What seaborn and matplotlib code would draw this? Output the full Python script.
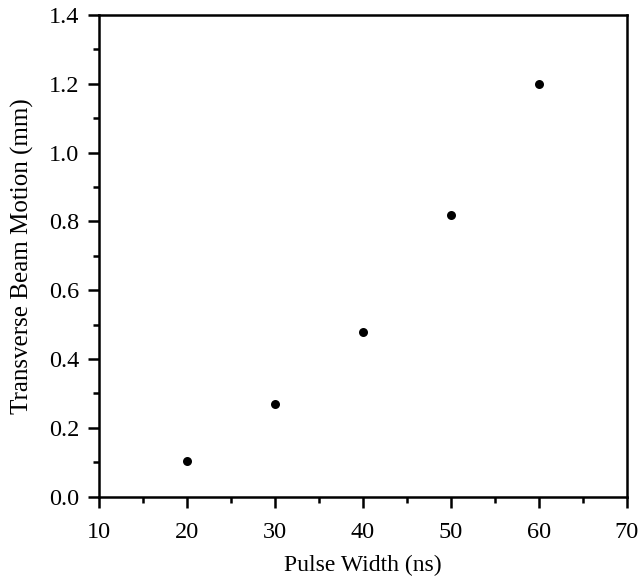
import matplotlib
matplotlib.use("Agg")
import matplotlib.pyplot as plt
from matplotlib.ticker import MultipleLocator
import seaborn as sns
import pandas as pd

pulse_width = [20, 30, 40, 50, 60]
beam_motion = [0.105, 0.27, 0.48, 0.82, 1.20]

sns.set_theme(style="white")
plt.rcParams['font.family'] = ['Liberation Serif', 'DejaVu Serif']

df = pd.DataFrame({"Pulse Width (ns)": pulse_width,
                   "Transverse Beam Motion (mm)": beam_motion})

fig = plt.figure(figsize=(6.39, 5.80), dpi=100)
ax = fig.add_axes([0.155, 0.1436, 0.826, 0.8305])
sns.scatterplot(data=df, x="Pulse Width (ns)", y="Transverse Beam Motion (mm)",
                ax=ax, color="black", s=42, edgecolor="black", linewidth=0)

ax.set_xlim(10, 70)
ax.set_ylim(0, 1.4)
ax.xaxis.set_major_locator(MultipleLocator(10))
ax.xaxis.set_minor_locator(MultipleLocator(5))
ax.yaxis.set_major_locator(MultipleLocator(0.2))
ax.yaxis.set_minor_locator(MultipleLocator(0.1))
ax.yaxis.set_major_formatter(matplotlib.ticker.FormatStrFormatter('%.1f'))

for sp in ax.spines.values():
    sp.set_color("black")
    sp.set_linewidth(1.8)

ax.tick_params(axis="both", which="major", direction="out", length=8, width=1.8,
               color="black", labelsize=17.5, labelcolor="black",
               bottom=True, left=True)
ax.tick_params(axis="x", which="major", pad=10)
ax.tick_params(axis="y", which="major", pad=6)
ax.tick_params(axis="both", which="minor", direction="out", length=4.5, width=1.8,
               color="black", bottom=True, left=True)

ax.set_xlabel("Pulse Width (ns)", fontsize=17, color="black", labelpad=9)
ax.set_ylabel("Transverse Beam Motion (mm)", fontsize=18, color="black", labelpad=11)

fig.savefig("out.png", dpi=100)
